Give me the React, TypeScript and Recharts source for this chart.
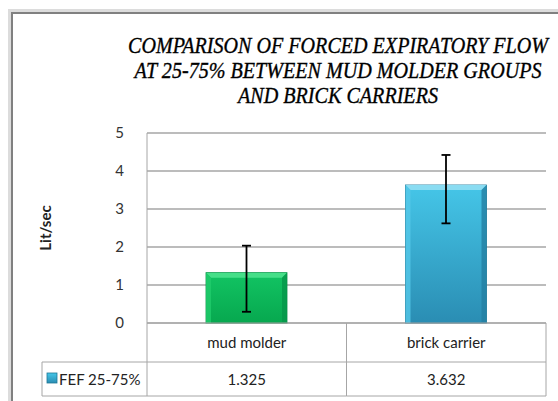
import { BarChart, Bar, XAxis, YAxis, CartesianGrid, ErrorBar, Cell, Label } from "recharts";

const categories = ["mud molder", "brick carrier"];
const fefValues = [1.325, 3.632];
// [below, above] the bar top
const fefErrors = [
  [1.03, 0.71],
  [1.01, 0.79],
];
const yTicks = [0, 1, 2, 3, 4, 5];
const seriesName = "FEF 25-75%";
const titleLines = [
  "COMPARISON OF FORCED EXPIRATORY FLOW",
  "AT 25-75%  BETWEEN MUD MOLDER GROUPS",
  "AND BRICK CARRIERS",
];

const data = categories.map((name, i) => ({ name, fef: fefValues[i], err: fefErrors[i] }));

const W = 558;
const H = 401;
const AXIS_W = 147;
const RIGHT = 12;
const BAND = (W - AXIS_W - RIGHT) / categories.length;
const ROW1 = 39;
const ROW2 = 34;
const LEGEND_W = 105;
const LINE = "#a6a6a6";
const SANS = "Lato, 'Open Sans', sans-serif";

const palettes = [
  { id: "g", top: "#12c463", bottom: "#07a84f", bevel: "#45df88", left: "#20cc6c", right: "#06964a", edge: "#078a43" },
  { id: "b", top: "#45c6e8", bottom: "#2a8db3", bevel: "#8adcf2", left: "#55c8e8", right: "#247fa2", edge: "#1f7896" },
];

function BevelBar(props: any) {
  const { x, y, width: w, height: h, index } = props;
  const p = palettes[index % palettes.length];
  const b = 5;
  return (
    <g>
      <rect x={x} y={y} width={w} height={h} fill={`url(#grad-${p.id})`} stroke={p.edge} strokeWidth={0.8} />
      <polygon points={`${x},${y} ${x + w},${y} ${x + w - b},${y + b} ${x + b},${y + b}`} fill={p.bevel} />
      <polygon points={`${x},${y} ${x + b},${y + b} ${x + b},${y + h} ${x},${y + h}`} fill={p.left} opacity={0.8} />
      <polygon points={`${x + w},${y} ${x + w - b},${y + b} ${x + w - b},${y + h} ${x + w},${y + h}`} fill={p.right} opacity={0.8} />
    </g>
  );
}

function TableTick(props: any) {
  const { x, y, payload, index } = props;
  const left = x - BAND / 2;
  const value = fefValues[index];
  return (
    <g>
      <line x1={left} y1={y} x2={left + BAND} y2={y} stroke={LINE} />
      <line x1={left} y1={y + ROW1} x2={left + BAND} y2={y + ROW1} stroke={LINE} />
      <line x1={left} y1={y + ROW1 + ROW2} x2={left + BAND} y2={y + ROW1 + ROW2} stroke={LINE} />
      <line x1={left + BAND} y1={y} x2={left + BAND} y2={y + ROW1 + ROW2} stroke={LINE} />
      <line x1={left} y1={y} x2={left} y2={y + ROW1 + ROW2} stroke={LINE} />
      <text x={x} y={y + 25} textAnchor="middle" fontFamily={SANS} fontSize={15} fill="#222">
        {payload.value}
      </text>
      <text x={x} y={y + ROW1 + 23} textAnchor="middle" fontFamily={SANS} fontSize={15} fill="#222">
        {value}
      </text>
      {index === 0 && (
        <g>
          <line x1={left - LEGEND_W} y1={y + ROW1} x2={left} y2={y + ROW1} stroke={LINE} />
          <line x1={left - LEGEND_W} y1={y + ROW1 + ROW2} x2={left} y2={y + ROW1 + ROW2} stroke={LINE} />
          <line x1={left - LEGEND_W} y1={y + ROW1} x2={left - LEGEND_W} y2={y + ROW1 + ROW2} stroke={LINE} />
          <rect x={left - LEGEND_W + 5} y={y + ROW1 + 11} width={10} height={10} fill="url(#grad-b)" stroke="#1f7896" strokeWidth={0.8} />
          <text x={left - LEGEND_W + 17} y={y + ROW1 + 23} fontFamily={SANS} fontSize={15} fill="#222">
            {seriesName}
          </text>
        </g>
      )}
    </g>
  );
}

function YLabel(props: any) {
  const { viewBox } = props;
  const cx = viewBox.x + 45;
  const cy = viewBox.y + viewBox.height / 2;
  return (
    <text x={cx} y={cy} transform={`rotate(-90 ${cx} ${cy})`} textAnchor="middle" dominantBaseline="central" fontFamily={SANS} fontWeight="bold" fontSize={15} fill="#222">
      Lit/sec
    </text>
  );
}

export default function App() {
  return (
    <div style={{ position: "absolute", left: 0, top: 0, width: W, height: H, background: "#fff", overflow: "hidden" }}>
      <div style={{ position: "absolute", left: 8, top: 9, width: W, height: H, border: "3px solid #dcdcdc", boxSizing: "border-box" }} />
      <div style={{ position: "absolute", left: 11, top: 12, width: W, height: H, border: "2px solid #808080", boxSizing: "border-box" }} />
      <svg width={W} height={H} style={{ position: "absolute", left: 0, top: 0 }}>
        {titleLines.map((t, i) => (
          <text
            key={i}
            x={338}
            y={53 + i * 25}
            textAnchor="middle"
            fontFamily="'Liberation Serif', 'Times New Roman', serif"
            fontStyle="italic"
            fontSize={23}
            fill="#000"
            stroke="#000"
            strokeWidth={0.35}
            textLength={[420, 407, 200][i]}
            lengthAdjust="spacingAndGlyphs"
          >
            {t}
          </text>
        ))}
      </svg>
      <div style={{ position: "absolute", left: 0, top: 0 }}>
        <BarChart width={W} height={H} data={data} margin={{ top: 133, right: RIGHT, bottom: 5, left: 0 }}>
          <defs>
            {palettes.map((p) => (
              <linearGradient key={p.id} id={`grad-${p.id}`} x1="0" y1="0" x2="0" y2="1">
                <stop offset="0%" stopColor={p.top} />
                <stop offset="100%" stopColor={p.bottom} />
              </linearGradient>
            ))}
          </defs>
          <CartesianGrid vertical={false} stroke={LINE} strokeWidth={1.4} />
          <XAxis dataKey="name" height={73} axisLine={false} tickLine={false} tickSize={0} tickMargin={0} interval={0} tick={<TableTick />} />
          <YAxis
            width={AXIS_W}
            domain={[0, 5]}
            ticks={yTicks}
            axisLine={{ stroke: LINE }}
            tickLine={false}
            tickMargin={17}
            tick={{ fontFamily: SANS, fontSize: 15, fill: "#333" }}
          >
            <Label content={<YLabel />} />
          </YAxis>
          <Bar dataKey="fef" name={seriesName} barSize={81} shape={<BevelBar />} isAnimationActive={false}>
            {data.map((d, i) => (
              <Cell key={d.name} fill={palettes[i].top} />
            ))}
            <ErrorBar dataKey="err" width={4.5} stroke="#000" strokeWidth={1.8} direction="y" />
          </Bar>
        </BarChart>
      </div>
    </div>
  );
}
